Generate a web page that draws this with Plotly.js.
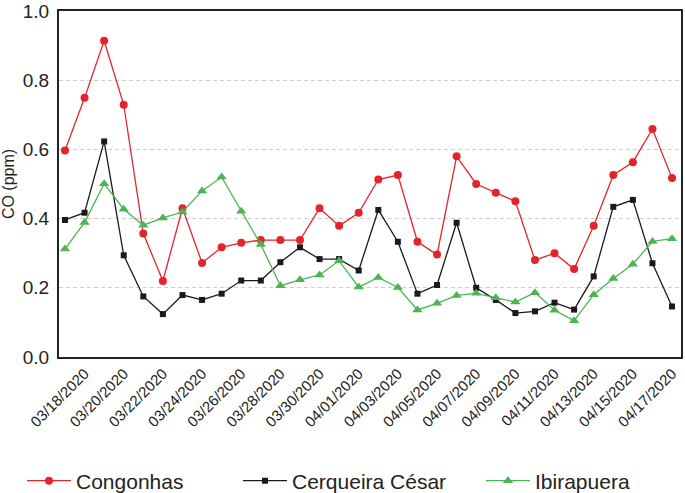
<!DOCTYPE html>
<html>
<head>
<meta charset="utf-8">
<script src="https://cdn.plot.ly/plotly-3.0.1.min.js"></script>
<style>html,body{margin:0;padding:0;background:#fff}#chart{width:685px;height:493px}</style>
</head>
<body>
<div id="chart"></div>
<script>
const dates = [
  '2020-03-17','2020-03-18','2020-03-19','2020-03-20','2020-03-21','2020-03-22','2020-03-23','2020-03-24',
  '2020-03-25','2020-03-26','2020-03-27','2020-03-28','2020-03-29','2020-03-30','2020-03-31','2020-04-01',
  '2020-04-02','2020-04-03','2020-04-04','2020-04-05','2020-04-06','2020-04-07','2020-04-08','2020-04-09',
  '2020-04-10','2020-04-11','2020-04-12','2020-04-13','2020-04-14','2020-04-15','2020-04-16','2020-04-17'
];
const congonhas = [0.597,0.749,0.914,0.729,0.357,0.220,0.430,0.272,0.317,0.330,0.338,0.338,0.338,0.430,0.379,0.417,
                   0.513,0.526,0.333,0.296,0.580,0.500,0.475,0.450,0.280,0.300,0.254,0.379,0.526,0.563,0.659,0.517];
const cerqueira = [0.396,0.417,0.623,0.294,0.175,0.124,0.179,0.165,0.183,0.221,0.221,0.274,0.317,0.283,0.283,0.250,
                   0.425,0.333,0.183,0.208,0.388,0.200,0.165,0.127,0.132,0.157,0.137,0.233,0.434,0.454,0.271,0.146];
const ibirapuera = [0.312,0.389,0.501,0.427,0.381,0.402,0.419,0.480,0.520,0.421,0.325,0.206,0.223,0.237,0.278,0.202,
                    0.230,0.201,0.136,0.155,0.178,0.184,0.171,0.159,0.186,0.135,0.105,0.180,0.227,0.268,0.334,0.342];
const tickVals = ['2020-03-18','2020-03-20','2020-03-22','2020-03-24','2020-03-26','2020-03-28','2020-03-30','2020-04-01',
                  '2020-04-03','2020-04-05','2020-04-07','2020-04-09','2020-04-11','2020-04-13','2020-04-15','2020-04-17'];
const tickText = ['03/18/2020','03/20/2020','03/22/2020','03/24/2020','03/26/2020','03/28/2020','03/30/2020','04/01/2020',
                  '04/03/2020','04/05/2020','04/07/2020','04/09/2020','04/11/2020','04/13/2020','04/15/2020','04/17/2020'];
const seriesNames = ['Congonhas','Cerqueira César','Ibirapuera'];

const FONT = '"Liberation Sans", Arial, Helvetica, sans-serif';
const traces = [
  {x: dates, y: congonhas, name: seriesNames[0], type: 'scatter', mode: 'lines+markers',
   line: {color: '#e3242b', width: 1.3}, marker: {symbol: 'circle', size: 8, color: '#e3242b'}, legend: 'legend'},
  {x: dates, y: cerqueira, name: seriesNames[1], type: 'scatter', mode: 'lines+markers',
   line: {color: '#1a1a1a', width: 1.3}, marker: {symbol: 'square', size: 6, color: '#1a1a1a'}, legend: 'legend2'},
  {x: dates, y: ibirapuera, name: seriesNames[2], type: 'scatter', mode: 'lines+markers',
   line: {color: '#4cb553', width: 1.3}, marker: {symbol: 'triangle-up', size: 9, color: '#4cb553'}, legend: 'legend3'}
];

const L = 59, R = 681, T = 11, B = 357;
const W = R - L, H = B - T;
function lx(px){ return (px - L) / W; }
function ly(py){ return (B - py) / H; }
const legFont = {family: FONT, size: 21, color: '#222'};
const legBase = {orientation: 'h', xanchor: 'left', yanchor: 'middle', font: legFont,
                 bgcolor: 'rgba(0,0,0,0)', borderwidth: 0, itemwidth: 44};

const layout = {
  width: 685, height: 493,
  margin: {l: L, r: 685 - R, t: T, b: 493 - B, pad: 0, autoexpand: false},
  paper_bgcolor: '#fff', plot_bgcolor: '#fff',
  font: {family: FONT, color: '#222'},
  showlegend: true,
  legend: Object.assign({}, legBase, {x: lx(22), y: ly(481)}),
  legend2: Object.assign({}, legBase, {x: lx(238), y: ly(481)}),
  legend3: Object.assign({}, legBase, {x: lx(481), y: ly(481)}),
  xaxis: {
    type: 'date',
    range: ['2020-03-16 16:40', '2020-04-17 11:00'],
    tickvals: tickVals, ticktext: tickText, tickangle: -45,
    tickfont: {family: FONT, size: 15, color: '#222'},
    showgrid: false, zeroline: false,
    showline: true, linecolor: '#222', linewidth: 2, mirror: true,
    ticks: '', automargin: false
  },
  yaxis: {
    range: [0, 1], dtick: 0.2, tick0: 0, tickformat: '.1f',
    tickfont: {family: FONT, size: 19, color: '#222'},
    showgrid: true, gridcolor: '#cfcfcf', gridwidth: 1, griddash: '4px,3px',
    zeroline: false, automargin: false,
    showline: true, linecolor: '#222', linewidth: 2, mirror: true,
    ticks: '', ticklabelstandoff: 4,
    title: {text: 'CO (ppm)', font: {family: FONT, size: 16, color: '#222'}, standoff: 11}
  }
};

Plotly.newPlot('chart', traces, layout, {displayModeBar: false, staticPlot: true});
</script>
</body>
</html>
